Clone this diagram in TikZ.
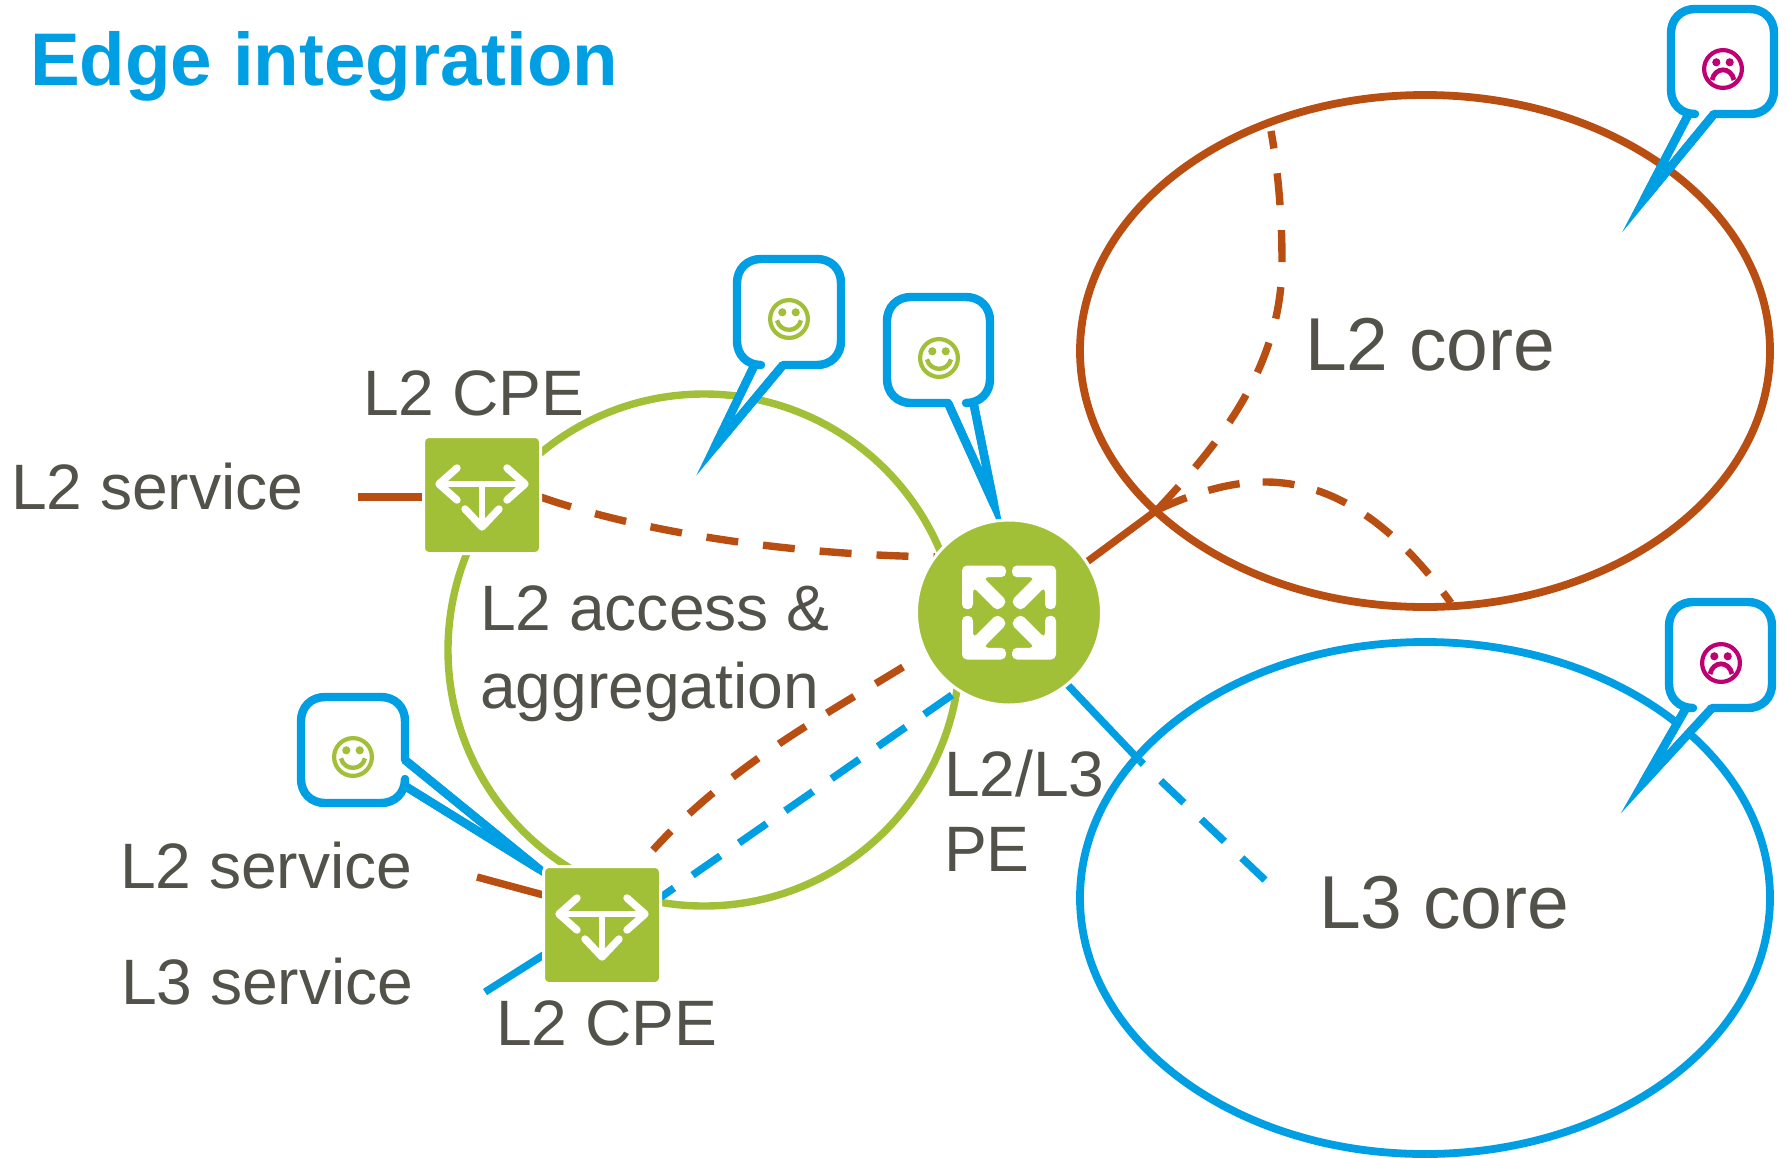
\documentclass[tikz,border=0pt]{standalone}
\usepackage{fontspec}
\setmainfont{Liberation Sans}
\usetikzlibrary{shapes.geometric}
\definecolor{cblue}{HTML}{009FE3}
\definecolor{cbrown}{HTML}{B94E12}
\definecolor{cgreen}{HTML}{A2C037}
\definecolor{ctext}{HTML}{52524A}
\definecolor{cmag}{HTML}{BE0072}
\pgfdeclarelayer{background}
\pgfsetlayers{background,main}
\tikzset{
  lab/.style={anchor=base west,inner sep=0pt,outer sep=0pt,text=ctext,font=\fontsize{32.1pt}{38pt}\selectfont},
  corelab/.style={anchor=base west,inner sep=0pt,outer sep=0pt,text=ctext,font=\fontsize{37.5pt}{44pt}\selectfont},
  titlelab/.style={anchor=base west,inner sep=0pt,outer sep=0pt,text=cblue,font=\fontsize{37.3pt}{44pt}\selectfont\bfseries},
  cpebox/.style={rectangle,rounded corners=2.5pt,fill=cgreen,draw=white,line width=1.5pt,minimum size=58.5pt,inner sep=0pt,outer sep=0pt},
  pebox/.style={circle,fill=cgreen,draw=white,line width=1.5pt,minimum size=92.5pt,inner sep=0pt,outer sep=0pt},
  ringnet/.style={ellipse,draw=#1,line width=3.9pt,minimum width=345pt,minimum height=256pt,inner sep=0pt,outer sep=0pt},
  ringgreen/.style={circle,draw=cgreen,line width=3.7pt,minimum size=256pt,inner sep=0pt,outer sep=0pt},
  solidbrown/.style={draw=cbrown,line width=3.7pt},
  solidblue/.style={draw=cblue,line width=3.7pt},
  dashbrown/.style={solidbrown,dash pattern=on 16pt off 12.5pt},
  dashblue/.style={solidblue,dash pattern=on 16.9pt off 11.3pt},
  bubble/.style={draw=cblue,fill=white,line width=4.2pt,line join=round},
  bubbletail/.style={draw=cblue,line width=4.2pt,line join=miter,miter limit=40},
  iconline/.style={draw=white,line width=3.7pt,line cap=round,line join=round}
}
% bubble with its tail on the bottom edge: left, top, right, bottom, tail-left x, tail-right x, tip x, tip y
\newcommand\bubblebottom[8]{%
  \draw[bubble] (#1+24,#2) -- (#3-24,#2) .. controls (#3-10,#2) and (#3,#2+10) .. (#3,#2+24)
    -- (#3,#4-24) .. controls (#3,#4-10) and (#3-10,#4) .. (#3-24,#4)
    -- (#6,#4) -- (#7,#8) -- (#5,#4) -- (#1+24,#4)
    .. controls (#1+10,#4) and (#1,#4-10) .. (#1,#4-24)
    -- (#1,#2+24) .. controls (#1,#2+10) and (#1+10,#2) .. (#1+24,#2) -- cycle;
  \draw[bubbletail] (#6,#4) -- (#7,#8) -- (#5,#4);}
% bubble with its tail on the right edge: left, top, right, bottom, tail-top y, tail-bottom y, tip x, tip y
\newcommand\bubbleright[8]{%
  \draw[bubble] (#1+24,#2) -- (#3-24,#2) .. controls (#3-10,#2) and (#3,#2+10) .. (#3,#2+24)
    -- (#3,#5) -- (#7,#8) -- (#3,#6) -- (#3,#4-24) .. controls (#3,#4-10) and (#3-10,#4) .. (#3-24,#4)
    -- (#1+24,#4) .. controls (#1+10,#4) and (#1,#4-10) .. (#1,#4-24)
    -- (#1,#2+24) .. controls (#1,#2+10) and (#1+10,#2) .. (#1+24,#2) -- cycle;
  \draw[bubbletail] (#3,#5) -- (#7,#8) -- (#3,#6);}
\newcommand\cpeicon[1]{\begin{scope}[shift={(#1)}]
  \draw[iconline,line width=3pt] (-42,-11) -- (42,-11) (0,-11) -- (0,31);
  \draw[iconline] (-25,-27) -- (-43,-11) -- (-25,5);
  \draw[iconline] (25,-27) -- (43,-11) -- (25,5);
  \draw[iconline] (-17,14) -- (0,32) -- (17,14);
\end{scope}}
\newcommand\peicon[1]{\begin{scope}[shift={(#1)}]
  \foreach \sx/\sy in {1/1,-1/1,1/-1,-1/-1}{
    \fill[white,rounded corners=2.5pt,xscale=\sx,yscale=\sy]
      (-47,-47) -- (-3,-47) -- (-3,-35.3) -- (-26,-35.3) -- (-1.5,-10.8) -- (-11.5,-1.2) -- (-36,-25.7) -- (-36,-3.3) -- (-47,-3.3) -- cycle;
  }
\end{scope}}
\newcommand\happyface[1]{\begin{scope}[shift={(#1)}]
  \draw[cgreen,line width=2.1pt] (0,0) circle[radius=18.9];
  \fill[cgreen] (-6.7,-6.7) circle[radius=4.1] (6.7,-6.7) circle[radius=4.1];
  \draw[cgreen,line width=2.2pt] (-12,1.3) .. controls (-9,14) and (9,14) .. (12,1.3);
\end{scope}}
\newcommand\sadfacemark[1]{\begin{scope}[shift={(#1)}]
  \draw[cmag,line width=2.1pt] (0,0) circle[radius=18.9];
  \fill[cmag] (-6.7,-6.7) circle[radius=4.1] (6.7,-6.7) circle[radius=4.1];
  \draw[cmag,line width=2.4pt] (-11,11) .. controls (-8,-2.5) and (8,-2.5) .. (11,11);
\end{scope}}
\begin{document}
\begin{tikzpicture}[x=0.5pt,y=-0.5pt]
\useasboundingbox (0,0) rectangle (1787,1157);

% main nodes
\node[cpebox] (cpeA) at (482,495) {};
\node[cpebox] (cpeB) at (602,925) {};
\node[pebox] (pe) at (1009,612.5) {};
\cpeicon{cpeA.center}
\cpeicon{cpeB.center}
\peicon{pe.center}

% free ends
\coordinate (stubA) at (358,497);
\coordinate (stubB) at (477,877);
\coordinate (stubC) at (485,992);
\coordinate (jbrown) at (1157,510);
\coordinate (jblue) at (1140,761);
\coordinate (endUp) at (1271,131);
\coordinate (midUp) at (1282,262);
\coordinate (endRight) at (1451,603);
\coordinate (endBlue) at (1265,880);
\coordinate (peBrownStart) at (903,667);
\coordinate (cpeBrownEnd) at (653,850);
\coordinate (peBlueStart) at (952,695);
\coordinate (cpeBlueEnd) at (661,897);

\begin{pgfonlayer}{background}
  \node[ringnet=cbrown] (l2ring) at (1425,351) {};
  \node[ringnet=cblue] (l3ring) at (1425,898) {};
  \node[ringgreen] (access) at (704,650) {};

  \draw[solidbrown] (stubA) -- ([yshift=-1pt]cpeA.west);
  \draw[solidbrown] (stubB) -- ([yshift=15pt]cpeB.west);
  \draw[solidblue] (stubC) -- ([yshift=-15pt]cpeB.west);

  \draw[dashbrown] ([yshift=-1pt]cpeA.east) .. controls (650,535) and (800,555) .. (pe.143);
  \draw[dashbrown] (peBrownStart) .. controls (830,712) and (730,765) .. (cpeBrownEnd);
  \draw[dashblue] (peBlueStart) -- (cpeBlueEnd);

  \draw[solidbrown] (pe.33) -- (jbrown);
  \draw[dashbrown] (jbrown) .. controls (1215,448) and (1282,370) .. (midUp) .. controls (1282,215) and (1278,170) .. (endUp);
  \draw[solidbrown,dash pattern=on 16pt off 11.5pt] (jbrown) .. controls (1240,472) and (1340,449) .. (endRight);

  \draw[solidblue] (pe.-51) -- (jblue);
  \draw[solidblue,dash pattern=on 16pt off 12pt] (endBlue) -- (jblue);

  % callouts
  \bubblebottom{1671}{9}{1774}{114}{1688.6}{1714}{1644.5}{198.5}
  \bubblebottom{1669}{602}{1772}{708}{1686}{1712}{1643}{783}
  \bubblebottom{737}{259}{841}{365}{754.5}{783}{715}{446.5}
  \bubblebottom{887}{297}{990}{403}{948}{973.5}{994}{504.5}
  \bubbleright{301}{697}{405}{803}{760}{786}{539}{869}
\end{pgfonlayer}

\sadfacemark{1723,69}
\sadfacemark{1721,663}
\happyface{789,319}
\happyface{939,358}
\happyface{353,757}

% labels
\node[titlelab] (title) at (30,85) {Edge integration};
\node[lab] (labA) at (11,509) {L2 service};
\node[lab] (labB) at (363,415) {L2 CPE};
\node[lab] (labC) at (480,630) {L2 access \&};
\node[lab] (labD) at (480,708) {aggregation};
\node[lab] (labE) at (944,796) {L2/L3};
\node[lab] (labF) at (944,871) {PE};
\node[lab] (labG) at (120,888) {L2 service};
\node[lab] (labH) at (121,1004) {L3 service};
\node[lab] (labI) at (496,1045) {L2 CPE};
\node[corelab] (labJ) at (1305,370) {L2 core};
\node[corelab] (labK) at (1319,928) {L3 core};
\end{tikzpicture}
\end{document}
